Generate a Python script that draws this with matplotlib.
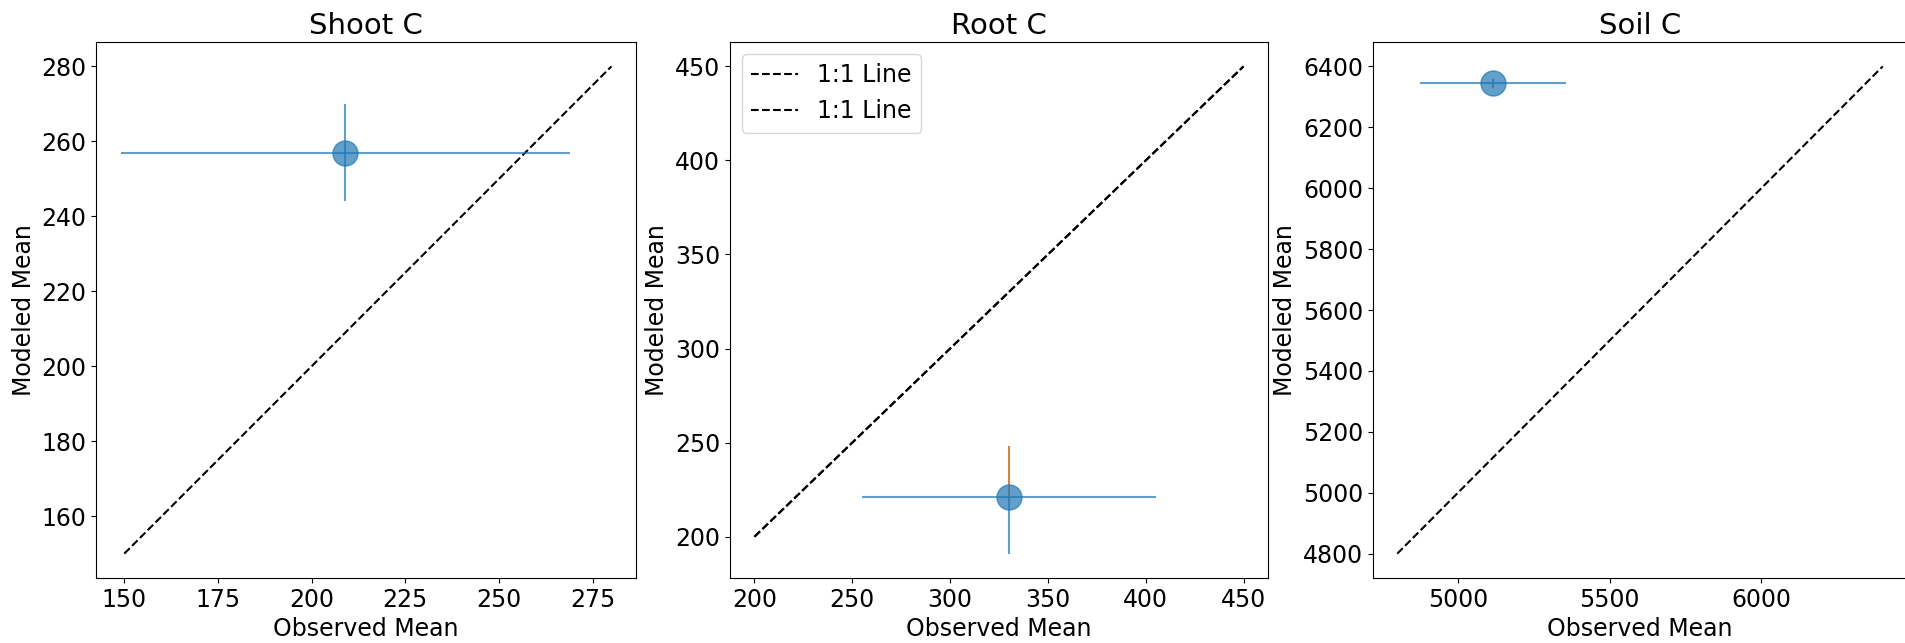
import numpy as np
import matplotlib.pyplot as plt
from matplotlib.ticker import MultipleLocator

# observed vs modeled means for each carbon pool
pools = ['Shoot C', 'Root C', 'Soil C']
obs_mean = [209, 330, 5115]
obs_err = [60, 75, 240]
mod_mean = [257, 221, 6345]
mod_err_lo = [13, 30, 15]
mod_err_hi = [13, 27, 15]
root_upper_err = 27          # upper modeled error for root (second run)
one_to_one = [(150, 280), (200, 450), (4800, 6400)]
x_step = [25, 50, 500]
y_step = [20, 50, 200]

fig = plt.figure(figsize=(19.05, 6.43), dpi=100)
W, H = 1905.0, 643.0
# axes boxes in pixels: left, right
boxes = [(96, 636), (730, 1268), (1373, 1907)]
top, bottom = 42, 578

for i in range(3):
    l, r = boxes[i]
    ax = fig.add_axes([l/W, (H-bottom)/H, (r-l)/W, (bottom-top)/H])
    lo, hi = one_to_one[i]
    ax.plot([lo, hi], [lo, hi], 'k--', label='1:1 Line')
    ax.errorbar(obs_mean[i], mod_mean[i], xerr=obs_err[i],
                yerr=[[mod_err_lo[i]], [mod_err_hi[i]]],
                fmt='o', color='C0', ms=18, alpha=0.7)
    if i == 1:
        # second run draws the line again and its own error bar
        ax.plot([lo, hi], [lo, hi], 'k--', label='1:1 Line')
        ax.errorbar(obs_mean[i], mod_mean[i], yerr=[[0], [root_upper_err]],
                    fmt='none', ecolor='C1', alpha=0.7)
        ax.legend(loc='upper left', fontsize=17)
    ax.xaxis.set_major_locator(MultipleLocator(x_step[i]))
    ax.yaxis.set_major_locator(MultipleLocator(y_step[i]))
    ax.set_title(pools[i], fontsize=21)
    ax.set_xlabel('Observed Mean', fontsize=17)
    ax.set_ylabel('Modeled Mean', fontsize=17)
    ax.tick_params(labelsize=17)

plt.savefig('out.png', dpi=100)
